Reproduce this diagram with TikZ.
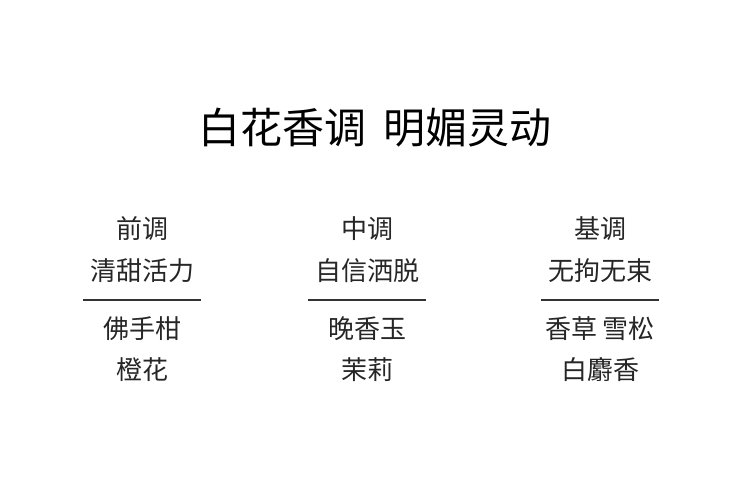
\documentclass[tikz,border=0pt]{standalone}
\usepackage{fontspec}
\newfontfamily\cjk{Noto Sans CJK SC}
\newfontfamily\cjkl{Noto Sans CJK SC Light}
\begin{document}
\begin{tikzpicture}[x=1pt,y=-1pt,
  title/.style={font=\cjk\fontsize{42}{44}\selectfont,text=black,inner sep=0},
  txt/.style={font=\cjk\fontsize{26}{28}\selectfont,text=black!85,inner sep=0},
  rule/.style={line width=1.6pt,black!80}]
\useasboundingbox (0,0) rectangle (750,485);
\node[title] (t) at (375,128) {白花香调\hspace{0.4em}明媚灵动};
\foreach \n/\x/\a/\b/\c/\d in {l/142/前调/清甜活力/佛手柑/橙花, m/367/中调/自信洒脱/晚香玉/茉莉, r/600/基调/无拘无束/香草 雪松/白麝香}{
  \node[txt] (\n a) at (\x,229) {\a};
  \node[txt] (\n b) at (\x,271) {\b};
  \coordinate (\n L) at (\x-59,300);
  \coordinate (\n R) at (\x+59,300);
  \draw[rule] (\n L) -- (\n R);
  \node[txt] (\n c) at (\x,329) {\c};
  \node[txt] (\n d) at (\x,370) {\d};
}
\end{tikzpicture}
\end{document}
